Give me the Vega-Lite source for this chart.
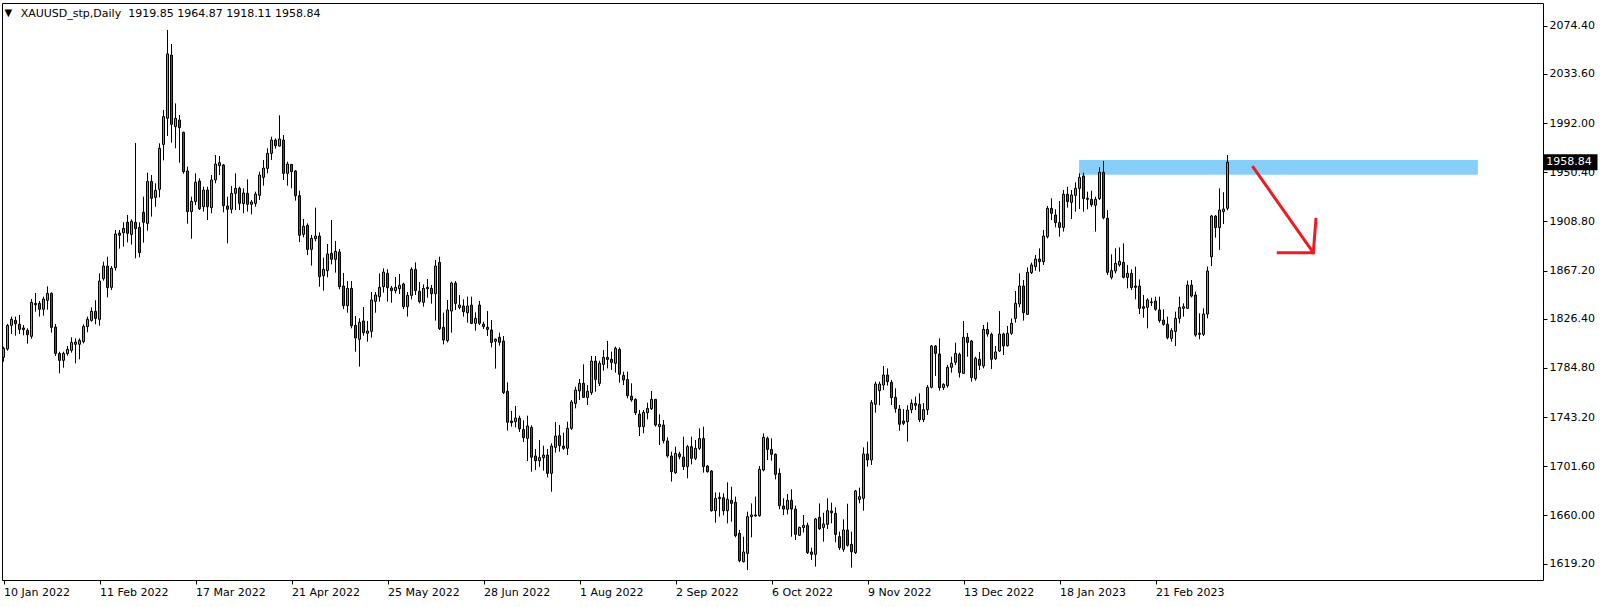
{
"$schema": "https://vega.github.io/schema/vega-lite/v6.json",
"width": 1541, "height": 577,
"autosize": {"type": "none"},
"padding": {"left": 2, "top": 3, "right": 61, "bottom": 27},
"background": "white",
"config": {"view": {"stroke": "black", "strokeWidth": 1}, "font": "DejaVu Sans",
 "scale": {"continuousPadding": 0},
 "axisX": {"title": null, "domain": false, "grid": false, "ticks": true, "tickSize": 4, "tickColor": "black", "tickWidth": 1, "labelAlign": "left", "labelBaseline": "top", "labelPadding": 2, "labelOffset": 0, "labelFont": "DejaVu Sans", "labelFontSize": 11, "labelColor": "black", "labelOverlap": false, "labelFlush": false, "labelBound": false},
 "axisY": {"title": null, "domain": false, "grid": false, "ticks": true, "tickSize": 4, "tickColor": "black", "tickWidth": 1, "labelPadding": 2, "labelFont": "DejaVu Sans", "labelFontSize": 11, "labelColor": "black", "labelBaseline": "middle", "labelOverlap": false, "labelBound": false, "labelFlush": false}
},
"datasets": {
"heading": [{"i": 4.3, "price": 2081.7, "label": "XAUUSD_stp,Daily\u00a0\u00a01919.85 1964.87 1918.11 1958.84"}],
"marker": [{"i": 1.18, "price": 2082.5, "label": "▼"}],
"zone": [{"x1": 268.9, "x2": 368.6, "top": 1960.7, "bottom": 1948.3}],
"tag": [{"x1": 385.0, "x2": 398.5, "top": 1965.6, "bottom": 1952.0, "tx": 385.7, "price": 1958.84, "label": "1958.84"}],
"arrow": [
{"seg": "a", "k": 0, "i": 312.45, "price": 1954.5},
{"seg": "a", "k": 1, "i": 327.45, "price": 1882.3},
{"seg": "b", "k": 0, "i": 318.7, "price": 1882.3},
{"seg": "b", "k": 1, "i": 327.45, "price": 1882.3},
{"seg": "b", "k": 2, "i": 328.1, "price": 1910.5}
],
"candles": [
{"i":0,"open":1793.7,"high":1802.8,"low":1790.1,"close":1801.4},
{"i":1,"open":1800.8,"high":1822.0,"low":1799.4,"close":1820.8},
{"i":2,"open":1820.8,"high":1828.2,"low":1813.5,"close":1825.9},
{"i":3,"open":1825.0,"high":1828.2,"low":1812.1,"close":1822.2},
{"i":4,"open":1821.7,"high":1829.6,"low":1813.5,"close":1817.4},
{"i":5,"open":1818.6,"high":1821.1,"low":1812.4,"close":1817.2},
{"i":6,"open":1816.6,"high":1818.3,"low":1805.3,"close":1812.9},
{"i":7,"open":1811.5,"high":1843.1,"low":1809.5,"close":1840.3},
{"i":8,"open":1839.4,"high":1848.2,"low":1832.4,"close":1838.3},
{"i":9,"open":1839.4,"high":1841.4,"low":1828.2,"close":1834.4},
{"i":10,"open":1834.4,"high":1845.1,"low":1829.0,"close":1843.1},
{"i":11,"open":1842.0,"high":1853.8,"low":1834.1,"close":1847.9},
{"i":12,"open":1847.9,"high":1848.7,"low":1814.6,"close":1819.1},
{"i":13,"open":1819.4,"high":1822.0,"low":1794.9,"close":1797.1},
{"i":14,"open":1797.1,"high":1798.5,"low":1780.2,"close":1791.2},
{"i":15,"open":1791.2,"high":1798.5,"low":1785.0,"close":1797.1},
{"i":16,"open":1796.9,"high":1803.3,"low":1795.2,"close":1800.5},
{"i":17,"open":1799.7,"high":1810.7,"low":1797.7,"close":1806.4},
{"i":18,"open":1804.8,"high":1809.8,"low":1788.7,"close":1806.7},
{"i":19,"open":1804.8,"high":1809.8,"low":1792.1,"close":1808.1},
{"i":20,"open":1807.0,"high":1821.7,"low":1805.6,"close":1820.0},
{"i":21,"open":1819.7,"high":1828.2,"low":1814.9,"close":1825.9},
{"i":22,"open":1825.0,"high":1836.0,"low":1823.9,"close":1832.7},
{"i":23,"open":1832.7,"high":1842.0,"low":1821.7,"close":1826.7},
{"i":24,"open":1825.9,"high":1864.8,"low":1820.5,"close":1858.3},
{"i":25,"open":1860.3,"high":1874.7,"low":1858.6,"close":1871.0},
{"i":26,"open":1871.0,"high":1878.9,"low":1844.5,"close":1852.7},
{"i":27,"open":1853.0,"high":1871.0,"low":1850.7,"close":1869.1},
{"i":28,"open":1869.6,"high":1901.5,"low":1867.1,"close":1898.1},
{"i":29,"open":1898.9,"high":1901.5,"low":1885.7,"close":1897.0},
{"i":30,"open":1899.2,"high":1908.0,"low":1887.4,"close":1902.9},
{"i":31,"open":1908.0,"high":1914.2,"low":1891.0,"close":1898.7},
{"i":32,"open":1897.8,"high":1910.5,"low":1889.1,"close":1908.8},
{"i":33,"open":1908.0,"high":1975.1,"low":1877.5,"close":1902.6},
{"i":34,"open":1903.7,"high":1908.0,"low":1878.3,"close":1882.3},
{"i":35,"open":1916.4,"high":1929.7,"low":1890.8,"close":1908.0},
{"i":36,"open":1907.1,"high":1950.0,"low":1900.9,"close":1942.6},
{"i":37,"open":1942.6,"high":1948.0,"low":1912.8,"close":1928.3},
{"i":38,"open":1929.1,"high":1941.0,"low":1921.2,"close":1935.0},
{"i":39,"open":1935.9,"high":1974.8,"low":1929.1,"close":1970.6},
{"i":40,"open":1973.9,"high":2003.0,"low":1960.4,"close":1997.4},
{"i":41,"open":1996.0,"high":2070.7,"low":1981.0,"close":2050.4},
{"i":42,"open":2049.5,"high":2058.8,"low":1975.4,"close":1990.9},
{"i":43,"open":1988.9,"high":2008.6,"low":1970.6,"close":1996.0},
{"i":44,"open":1994.5,"high":1998.8,"low":1958.4,"close":1988.1},
{"i":45,"open":1984.1,"high":1984.7,"low":1949.1,"close":1950.8},
{"i":46,"open":1951.4,"high":1955.1,"low":1906.8,"close":1917.0},
{"i":47,"open":1917.0,"high":1929.7,"low":1894.1,"close":1925.7},
{"i":48,"open":1925.5,"high":1949.4,"low":1922.6,"close":1941.8},
{"i":49,"open":1942.9,"high":1945.2,"low":1918.4,"close":1919.5},
{"i":50,"open":1921.2,"high":1938.1,"low":1917.0,"close":1935.3},
{"i":51,"open":1935.3,"high":1938.1,"low":1909.9,"close":1921.2},
{"i":52,"open":1920.4,"high":1948.0,"low":1915.6,"close":1943.8},
{"i":53,"open":1943.8,"high":1964.9,"low":1941.0,"close":1957.3},
{"i":54,"open":1955.9,"high":1964.1,"low":1948.0,"close":1958.4},
{"i":55,"open":1956.5,"high":1957.3,"low":1916.4,"close":1922.1},
{"i":56,"open":1921.8,"high":1929.7,"low":1890.2,"close":1919.0},
{"i":57,"open":1919.0,"high":1938.7,"low":1915.6,"close":1932.5},
{"i":58,"open":1932.5,"high":1949.4,"low":1918.4,"close":1936.7},
{"i":59,"open":1936.7,"high":1938.1,"low":1918.4,"close":1924.0},
{"i":60,"open":1923.8,"high":1936.7,"low":1915.6,"close":1932.8},
{"i":61,"open":1932.5,"high":1944.3,"low":1917.0,"close":1923.2},
{"i":62,"open":1923.2,"high":1926.9,"low":1914.7,"close":1925.2},
{"i":63,"open":1924.0,"high":1933.9,"low":1921.2,"close":1931.9},
{"i":64,"open":1930.8,"high":1950.8,"low":1926.9,"close":1948.0},
{"i":65,"open":1946.0,"high":1960.7,"low":1939.0,"close":1953.9},
{"i":66,"open":1953.6,"high":1970.6,"low":1949.4,"close":1966.3},
{"i":67,"open":1966.3,"high":1980.4,"low":1960.7,"close":1977.6},
{"i":68,"open":1977.6,"high":1979.0,"low":1970.3,"close":1972.8},
{"i":69,"open":1972.5,"high":1998.5,"low":1972.0,"close":1978.5},
{"i":70,"open":1977.6,"high":1981.8,"low":1943.8,"close":1949.4},
{"i":71,"open":1949.4,"high":1959.3,"low":1939.0,"close":1957.3},
{"i":72,"open":1957.0,"high":1957.3,"low":1936.7,"close":1950.8},
{"i":73,"open":1951.4,"high":1952.2,"low":1926.3,"close":1930.5},
{"i":74,"open":1930.5,"high":1934.8,"low":1891.3,"close":1897.0},
{"i":75,"open":1897.8,"high":1910.8,"low":1895.3,"close":1904.6},
{"i":76,"open":1905.4,"high":1907.1,"low":1880.3,"close":1885.1},
{"i":77,"open":1885.1,"high":1897.3,"low":1871.3,"close":1894.4},
{"i":78,"open":1894.1,"high":1920.4,"low":1891.9,"close":1896.4},
{"i":79,"open":1896.4,"high":1899.5,"low":1853.5,"close":1862.0},
{"i":80,"open":1862.8,"high":1878.1,"low":1850.2,"close":1868.2},
{"i":81,"open":1867.1,"high":1889.6,"low":1861.4,"close":1881.2},
{"i":82,"open":1881.7,"high":1910.0,"low":1872.4,"close":1876.7},
{"i":83,"open":1876.7,"high":1892.2,"low":1865.4,"close":1883.4},
{"i":84,"open":1882.9,"high":1885.4,"low":1851.3,"close":1853.5},
{"i":85,"open":1854.1,"high":1865.1,"low":1834.6,"close":1837.5},
{"i":86,"open":1837.5,"high":1858.3,"low":1831.5,"close":1852.1},
{"i":87,"open":1852.1,"high":1858.3,"low":1818.3,"close":1820.6},
{"i":88,"open":1820.8,"high":1828.7,"low":1798.5,"close":1810.1},
{"i":89,"open":1809.0,"high":1826.8,"low":1785.9,"close":1823.4},
{"i":90,"open":1824.5,"high":1836.3,"low":1812.1,"close":1814.6},
{"i":91,"open":1814.1,"high":1824.5,"low":1807.0,"close":1816.0},
{"i":92,"open":1815.8,"high":1849.0,"low":1810.4,"close":1842.3},
{"i":93,"open":1841.1,"high":1849.0,"low":1831.5,"close":1846.5},
{"i":94,"open":1845.1,"high":1864.8,"low":1840.9,"close":1853.0},
{"i":95,"open":1853.5,"high":1869.0,"low":1848.5,"close":1865.9},
{"i":96,"open":1864.8,"high":1868.2,"low":1840.9,"close":1852.7},
{"i":97,"open":1852.4,"high":1854.1,"low":1840.0,"close":1850.2},
{"i":98,"open":1850.2,"high":1861.7,"low":1847.9,"close":1853.0},
{"i":99,"open":1851.8,"high":1864.3,"low":1847.3,"close":1854.7},
{"i":100,"open":1855.8,"high":1856.9,"low":1834.6,"close":1836.6},
{"i":101,"open":1836.6,"high":1849.0,"low":1828.2,"close":1846.2},
{"i":102,"open":1846.2,"high":1869.9,"low":1842.8,"close":1868.2},
{"i":103,"open":1868.2,"high":1874.1,"low":1846.5,"close":1850.2},
{"i":104,"open":1849.6,"high":1857.5,"low":1839.4,"close":1840.9},
{"i":105,"open":1840.3,"high":1855.5,"low":1836.6,"close":1852.1},
{"i":106,"open":1853.0,"high":1860.0,"low":1844.2,"close":1851.8},
{"i":107,"open":1852.1,"high":1854.9,"low":1839.2,"close":1847.6},
{"i":108,"open":1847.6,"high":1876.1,"low":1824.8,"close":1871.0},
{"i":109,"open":1874.1,"high":1878.9,"low":1816.9,"close":1818.0},
{"i":110,"open":1819.1,"high":1831.5,"low":1804.7,"close":1808.4},
{"i":111,"open":1807.9,"high":1842.3,"low":1806.4,"close":1833.8},
{"i":112,"open":1832.9,"high":1857.8,"low":1814.6,"close":1856.6},
{"i":113,"open":1856.6,"high":1858.3,"low":1833.8,"close":1839.4},
{"i":114,"open":1836.0,"high":1846.5,"low":1834.4,"close":1838.0},
{"i":115,"open":1837.2,"high":1842.8,"low":1828.2,"close":1832.4},
{"i":116,"open":1831.5,"high":1845.1,"low":1823.1,"close":1837.2},
{"i":117,"open":1838.0,"high":1845.1,"low":1821.9,"close":1822.5},
{"i":118,"open":1822.5,"high":1831.8,"low":1816.3,"close":1826.7},
{"i":119,"open":1838.0,"high":1841.4,"low":1821.1,"close":1822.5},
{"i":120,"open":1821.9,"high":1823.9,"low":1817.7,"close":1819.7},
{"i":121,"open":1819.1,"high":1832.9,"low":1811.8,"close":1817.4},
{"i":122,"open":1816.9,"high":1825.3,"low":1802.2,"close":1806.4},
{"i":123,"open":1807.3,"high":1809.8,"low":1784.2,"close":1809.0},
{"i":124,"open":1810.7,"high":1814.6,"low":1803.6,"close":1806.4},
{"i":125,"open":1807.6,"high":1811.8,"low":1762.7,"close":1763.9},
{"i":126,"open":1765.0,"high":1772.6,"low":1731.7,"close":1738.8},
{"i":127,"open":1739.9,"high":1748.4,"low":1735.1,"close":1738.5},
{"i":128,"open":1739.3,"high":1752.6,"low":1734.5,"close":1742.4},
{"i":129,"open":1742.2,"high":1744.4,"low":1730.6,"close":1733.4},
{"i":130,"open":1732.8,"high":1740.5,"low":1722.1,"close":1725.8},
{"i":131,"open":1725.2,"high":1744.4,"low":1706.0,"close":1735.7},
{"i":132,"open":1734.5,"high":1736.2,"low":1697.0,"close":1709.2},
{"i":133,"open":1710.3,"high":1716.2,"low":1698.4,"close":1706.3},
{"i":134,"open":1706.3,"high":1723.8,"low":1701.2,"close":1708.9},
{"i":135,"open":1708.9,"high":1719.0,"low":1697.9,"close":1711.1},
{"i":136,"open":1711.1,"high":1716.2,"low":1692.2,"close":1695.6},
{"i":137,"open":1695.6,"high":1721.0,"low":1680.1,"close":1718.7},
{"i":138,"open":1717.6,"high":1739.0,"low":1713.1,"close":1727.2},
{"i":139,"open":1727.5,"high":1736.5,"low":1713.9,"close":1719.0},
{"i":140,"open":1718.7,"high":1730.0,"low":1715.4,"close":1716.8},
{"i":141,"open":1716.8,"high":1739.3,"low":1711.1,"close":1733.7},
{"i":142,"open":1733.7,"high":1757.6,"low":1732.3,"close":1756.0},
{"i":143,"open":1754.8,"high":1768.9,"low":1750.6,"close":1766.1},
{"i":144,"open":1765.3,"high":1775.4,"low":1757.6,"close":1771.8},
{"i":145,"open":1771.8,"high":1787.8,"low":1759.3,"close":1759.9},
{"i":146,"open":1759.9,"high":1770.3,"low":1753.4,"close":1765.0},
{"i":147,"open":1763.9,"high":1794.9,"low":1761.9,"close":1790.6},
{"i":148,"open":1790.6,"high":1794.9,"low":1764.7,"close":1775.1},
{"i":149,"open":1771.8,"high":1790.9,"low":1769.5,"close":1788.7},
{"i":150,"open":1787.8,"high":1799.9,"low":1782.5,"close":1793.7},
{"i":151,"open":1793.7,"high":1807.6,"low":1784.4,"close":1792.0},
{"i":152,"open":1792.1,"high":1798.6,"low":1783.0,"close":1789.5},
{"i":153,"open":1788.7,"high":1802.8,"low":1780.8,"close":1801.4},
{"i":154,"open":1800.5,"high":1802.2,"low":1772.3,"close":1779.4},
{"i":155,"open":1778.5,"high":1781.6,"low":1770.3,"close":1774.6},
{"i":156,"open":1775.1,"high":1781.6,"low":1759.1,"close":1761.3},
{"i":157,"open":1761.0,"high":1771.8,"low":1756.2,"close":1757.7},
{"i":158,"open":1758.2,"high":1759.1,"low":1745.0,"close":1746.9},
{"i":159,"open":1745.8,"high":1749.2,"low":1727.2,"close":1735.1},
{"i":160,"open":1735.1,"high":1749.2,"low":1729.5,"close":1747.2},
{"i":161,"open":1746.9,"high":1755.4,"low":1741.3,"close":1750.6},
{"i":162,"open":1750.3,"high":1765.3,"low":1749.2,"close":1758.2},
{"i":163,"open":1758.2,"high":1758.2,"low":1735.1,"close":1736.5},
{"i":164,"open":1735.1,"high":1745.5,"low":1719.6,"close":1737.1},
{"i":165,"open":1736.5,"high":1740.7,"low":1721.0,"close":1723.3},
{"i":166,"open":1723.0,"high":1726.1,"low":1708.9,"close":1710.3},
{"i":167,"open":1710.3,"high":1713.9,"low":1688.6,"close":1697.0},
{"i":168,"open":1696.2,"high":1718.2,"low":1695.1,"close":1712.5},
{"i":169,"open":1712.0,"high":1713.9,"low":1707.5,"close":1709.7},
{"i":170,"open":1709.4,"high":1726.6,"low":1698.4,"close":1701.3},
{"i":171,"open":1701.3,"high":1719.6,"low":1691.4,"close":1718.2},
{"i":172,"open":1718.2,"high":1726.6,"low":1703.2,"close":1708.3},
{"i":173,"open":1708.3,"high":1723.8,"low":1706.9,"close":1716.8},
{"i":174,"open":1716.8,"high":1733.7,"low":1715.4,"close":1725.0},
{"i":175,"open":1725.0,"high":1735.1,"low":1696.2,"close":1701.3},
{"i":176,"open":1701.8,"high":1702.7,"low":1696.2,"close":1697.0},
{"i":177,"open":1697.6,"high":1698.4,"low":1663.2,"close":1664.0},
{"i":178,"open":1664.0,"high":1679.5,"low":1653.9,"close":1674.5},
{"i":179,"open":1674.2,"high":1679.5,"low":1659.0,"close":1675.3},
{"i":180,"open":1675.0,"high":1678.7,"low":1660.1,"close":1664.0},
{"i":181,"open":1664.0,"high":1688.0,"low":1653.3,"close":1673.6},
{"i":182,"open":1672.8,"high":1684.3,"low":1654.7,"close":1670.2},
{"i":183,"open":1671.1,"high":1675.9,"low":1641.5,"close":1642.9},
{"i":184,"open":1644.9,"high":1647.7,"low":1620.3,"close":1621.7},
{"i":185,"open":1620.9,"high":1642.0,"low":1620.3,"close":1629.1},
{"i":186,"open":1627.9,"high":1663.2,"low":1613.8,"close":1659.0},
{"i":187,"open":1659.0,"high":1670.2,"low":1641.5,"close":1660.4},
{"i":188,"open":1659.5,"high":1675.9,"low":1659.0,"close":1660.4},
{"i":189,"open":1659.8,"high":1701.8,"low":1659.0,"close":1699.0},
{"i":190,"open":1698.4,"high":1729.5,"low":1697.3,"close":1726.1},
{"i":191,"open":1725.2,"high":1726.6,"low":1706.9,"close":1715.9},
{"i":192,"open":1715.9,"high":1725.2,"low":1706.3,"close":1711.7},
{"i":193,"open":1711.7,"high":1712.5,"low":1690.5,"close":1694.8},
{"i":194,"open":1695.6,"high":1699.8,"low":1665.2,"close":1668.3},
{"i":195,"open":1668.0,"high":1674.5,"low":1660.4,"close":1665.4},
{"i":196,"open":1665.2,"high":1678.1,"low":1660.9,"close":1672.8},
{"i":197,"open":1672.8,"high":1682.1,"low":1642.0,"close":1665.4},
{"i":198,"open":1665.4,"high":1668.3,"low":1639.2,"close":1644.0},
{"i":199,"open":1643.2,"high":1650.5,"low":1642.6,"close":1649.9},
{"i":200,"open":1649.7,"high":1660.4,"low":1645.5,"close":1651.6},
{"i":201,"open":1651.6,"high":1653.9,"low":1627.4,"close":1628.5},
{"i":202,"open":1629.1,"high":1632.7,"low":1622.3,"close":1627.1},
{"i":203,"open":1627.1,"high":1657.8,"low":1616.7,"close":1657.0},
{"i":204,"open":1658.4,"high":1670.2,"low":1647.7,"close":1648.8},
{"i":205,"open":1649.9,"high":1662.3,"low":1637.8,"close":1652.8},
{"i":206,"open":1652.5,"high":1674.5,"low":1648.5,"close":1664.0},
{"i":207,"open":1663.7,"high":1670.8,"low":1653.3,"close":1662.3},
{"i":208,"open":1661.8,"high":1666.8,"low":1637.3,"close":1644.0},
{"i":209,"open":1642.0,"high":1646.3,"low":1630.8,"close":1632.7},
{"i":210,"open":1631.3,"high":1656.7,"low":1629.3,"close":1647.7},
{"i":211,"open":1647.7,"high":1669.9,"low":1633.6,"close":1634.7},
{"i":212,"open":1635.6,"high":1646.3,"low":1615.8,"close":1629.3},
{"i":213,"open":1628.5,"high":1681.5,"low":1627.4,"close":1680.7},
{"i":214,"open":1673.6,"high":1683.5,"low":1670.2,"close":1675.9},
{"i":215,"open":1674.5,"high":1717.6,"low":1664.0,"close":1712.0},
{"i":216,"open":1712.0,"high":1722.4,"low":1701.3,"close":1706.9},
{"i":217,"open":1706.9,"high":1757.7,"low":1702.7,"close":1755.4},
{"i":218,"open":1754.0,"high":1773.2,"low":1746.9,"close":1771.2},
{"i":219,"open":1765.6,"high":1773.2,"low":1753.2,"close":1771.2},
{"i":220,"open":1770.3,"high":1786.4,"low":1766.1,"close":1778.8},
{"i":221,"open":1778.8,"high":1784.4,"low":1769.8,"close":1773.2},
{"i":222,"open":1772.6,"high":1774.6,"low":1753.4,"close":1759.6},
{"i":223,"open":1759.9,"high":1767.5,"low":1746.9,"close":1750.3},
{"i":224,"open":1750.0,"high":1753.4,"low":1731.7,"close":1737.1},
{"i":225,"open":1739.9,"high":1750.0,"low":1736.5,"close":1737.9},
{"i":226,"open":1739.3,"high":1753.2,"low":1722.4,"close":1749.2},
{"i":227,"open":1749.5,"high":1758.2,"low":1746.5,"close":1754.8},
{"i":228,"open":1754.8,"high":1760.5,"low":1749.2,"close":1753.2},
{"i":229,"open":1754.0,"high":1763.3,"low":1739.0,"close":1741.0},
{"i":230,"open":1741.0,"high":1755.0,"low":1739.0,"close":1749.5},
{"i":231,"open":1749.5,"high":1770.3,"low":1745.0,"close":1768.4},
{"i":232,"open":1768.4,"high":1804.2,"low":1767.5,"close":1803.3},
{"i":233,"open":1803.3,"high":1804.2,"low":1778.0,"close":1797.1},
{"i":234,"open":1796.6,"high":1809.8,"low":1765.6,"close":1768.1},
{"i":235,"open":1768.1,"high":1771.8,"low":1766.1,"close":1770.9},
{"i":236,"open":1769.8,"high":1787.3,"low":1768.1,"close":1785.3},
{"i":237,"open":1785.3,"high":1794.3,"low":1780.8,"close":1788.7},
{"i":238,"open":1789.5,"high":1806.2,"low":1787.3,"close":1797.1},
{"i":239,"open":1796.3,"high":1797.7,"low":1776.6,"close":1780.8},
{"i":240,"open":1780.2,"high":1824.5,"low":1779.7,"close":1810.7},
{"i":241,"open":1810.7,"high":1814.3,"low":1794.3,"close":1806.4},
{"i":242,"open":1807.6,"high":1808.4,"low":1773.2,"close":1776.6},
{"i":243,"open":1775.7,"high":1794.3,"low":1774.0,"close":1792.9},
{"i":244,"open":1792.1,"high":1798.3,"low":1783.0,"close":1787.0},
{"i":245,"open":1786.4,"high":1821.1,"low":1784.4,"close":1817.4},
{"i":246,"open":1817.4,"high":1823.4,"low":1811.2,"close":1813.5},
{"i":247,"open":1813.2,"high":1814.6,"low":1783.9,"close":1792.1},
{"i":248,"open":1792.6,"high":1803.3,"low":1791.5,"close":1798.3},
{"i":249,"open":1799.1,"high":1832.9,"low":1798.3,"close":1813.5},
{"i":250,"open":1813.5,"high":1814.6,"low":1795.7,"close":1803.3},
{"i":251,"open":1803.6,"high":1820.3,"low":1802.8,"close":1814.1},
{"i":252,"open":1814.1,"high":1826.7,"low":1812.7,"close":1822.5},
{"i":253,"open":1826.7,"high":1849.9,"low":1823.1,"close":1839.4},
{"i":254,"open":1838.9,"high":1864.8,"low":1836.1,"close":1854.1},
{"i":255,"open":1854.1,"high":1859.2,"low":1824.8,"close":1831.5},
{"i":256,"open":1830.1,"high":1869.9,"low":1829.6,"close":1865.7},
{"i":257,"open":1865.4,"high":1873.9,"low":1864.3,"close":1871.9},
{"i":258,"open":1870.5,"high":1880.3,"low":1867.1,"close":1876.9},
{"i":259,"open":1876.9,"high":1886.0,"low":1866.2,"close":1874.7},
{"i":260,"open":1874.7,"high":1901.5,"low":1871.9,"close":1896.4},
{"i":261,"open":1895.8,"high":1921.8,"low":1894.4,"close":1919.8},
{"i":262,"open":1919.8,"high":1928.3,"low":1909.9,"close":1915.6},
{"i":263,"open":1914.2,"high":1919.0,"low":1903.7,"close":1907.7},
{"i":264,"open":1907.7,"high":1926.0,"low":1895.8,"close":1903.7},
{"i":265,"open":1903.7,"high":1935.3,"low":1900.1,"close":1931.7},
{"i":266,"open":1931.7,"high":1938.1,"low":1920.4,"close":1925.5},
{"i":267,"open":1924.9,"high":1935.3,"low":1910.8,"close":1931.1},
{"i":268,"open":1930.8,"high":1941.8,"low":1917.0,"close":1936.7},
{"i":269,"open":1936.7,"high":1949.4,"low":1919.2,"close":1946.0},
{"i":270,"open":1947.2,"high":1950.0,"low":1917.0,"close":1928.0},
{"i":271,"open":1928.3,"high":1933.9,"low":1919.0,"close":1927.4},
{"i":272,"open":1927.4,"high":1934.8,"low":1921.2,"close":1922.9},
{"i":273,"open":1922.4,"high":1929.7,"low":1900.1,"close":1927.4},
{"i":274,"open":1928.0,"high":1954.5,"low":1926.9,"close":1950.3},
{"i":275,"open":1950.3,"high":1959.9,"low":1910.5,"close":1911.9},
{"i":276,"open":1911.4,"high":1918.4,"low":1863.4,"close":1865.6},
{"i":277,"open":1861.4,"high":1880.9,"low":1859.7,"close":1867.1},
{"i":278,"open":1866.8,"high":1886.0,"low":1864.8,"close":1873.3},
{"i":279,"open":1871.9,"high":1886.8,"low":1870.5,"close":1875.0},
{"i":280,"open":1874.1,"high":1890.2,"low":1860.6,"close":1861.4},
{"i":281,"open":1861.4,"high":1871.9,"low":1852.1,"close":1864.8},
{"i":282,"open":1864.8,"high":1868.2,"low":1850.7,"close":1852.7},
{"i":283,"open":1854.1,"high":1870.5,"low":1842.8,"close":1853.0},
{"i":284,"open":1854.1,"high":1859.7,"low":1830.4,"close":1835.2},
{"i":285,"open":1836.6,"high":1846.5,"low":1827.3,"close":1835.2},
{"i":286,"open":1836.0,"high":1843.7,"low":1818.3,"close":1842.3},
{"i":287,"open":1840.6,"high":1844.2,"low":1837.1,"close":1840.0},
{"i":288,"open":1841.4,"high":1845.1,"low":1833.2,"close":1834.4},
{"i":289,"open":1833.8,"high":1845.1,"low":1823.1,"close":1824.8},
{"i":290,"open":1825.3,"high":1834.4,"low":1820.5,"close":1821.7},
{"i":291,"open":1821.7,"high":1828.2,"low":1809.0,"close":1810.4},
{"i":292,"open":1809.8,"high":1818.3,"low":1807.0,"close":1816.3},
{"i":293,"open":1815.7,"high":1832.4,"low":1803.3,"close":1826.7},
{"i":294,"open":1826.7,"high":1845.1,"low":1822.5,"close":1836.0},
{"i":295,"open":1835.2,"high":1839.4,"low":1828.2,"close":1836.6},
{"i":296,"open":1835.2,"high":1858.6,"low":1834.6,"close":1854.9},
{"i":297,"open":1854.9,"high":1859.2,"low":1844.5,"close":1845.6},
{"i":298,"open":1846.5,"high":1849.3,"low":1811.2,"close":1812.6},
{"i":299,"open":1814.1,"high":1831.0,"low":1809.0,"close":1813.2},
{"i":300,"open":1813.2,"high":1835.2,"low":1811.8,"close":1830.4},
{"i":301,"open":1830.4,"high":1870.5,"low":1826.7,"close":1866.8},
{"i":302,"open":1878.9,"high":1914.2,"low":1871.0,"close":1913.3},
{"i":303,"open":1913.3,"high":1914.2,"low":1895.0,"close":1903.5},
{"i":304,"open":1903.5,"high":1936.7,"low":1884.6,"close":1918.4},
{"i":305,"open":1917.0,"high":1933.4,"low":1906.6,"close":1919.2},
{"i":306,"open":1919.85,"high":1964.87,"low":1918.11,"close":1958.84}
]
},
"layer": [
{"data": {"name": "zone"}, "mark": {"type": "rect", "color": "#87cefa", "opacity": 1},
 "encoding": {
  "x": {"field": "x1", "type": "quantitative", "title": null, "scale": {"domain": [-0.375, 384.875], "nice": false, "zero": false, "padding": 0}, "axis": {"orient": "bottom", "values": [0,24,48,72,96,120,144,168,192,216,240,264,288], "labelExpr": "['10 Jan 2022','11 Feb 2022','17 Mar 2022','21 Apr 2022','25 May 2022','28 Jun 2022','1 Aug 2022','2 Sep 2022','6 Oct 2022','9 Nov 2022','13 Dec 2022','18 Jan 2023','21 Feb 2023'][round(datum.value/24)]"}},
  "x2": {"field": "x2"},
  "y": {"field": "top", "type": "quantitative", "title": null, "scale": {"domain": [1605.38, 2093.52], "nice": false, "zero": false, "padding": 0}, "axis": {"orient": "right", "values": [1619.2,1660,1701.6,1743.2,1784.8,1826.4,1867.2,1908.8,1950.4,1992,2033.6,2074.4], "format": ".2f"}},
  "y2": {"field": "bottom"}
 }},
{"data": {"name": "candles"}, "mark": {"type": "rule", "color": "black", "strokeWidth": 1},
 "encoding": {
  "x": {"field": "i", "type": "quantitative", "title": null, "scale": {"domain": [-0.375, 384.875], "nice": false, "zero": false, "padding": 0}, "axis": {"orient": "bottom", "values": [0,24,48,72,96,120,144,168,192,216,240,264,288], "labelExpr": "['10 Jan 2022','11 Feb 2022','17 Mar 2022','21 Apr 2022','25 May 2022','28 Jun 2022','1 Aug 2022','2 Sep 2022','6 Oct 2022','9 Nov 2022','13 Dec 2022','18 Jan 2023','21 Feb 2023'][round(datum.value/24)]"}},
  "y": {"field": "low", "type": "quantitative", "title": null, "scale": {"domain": [1605.38, 2093.52], "nice": false, "zero": false, "padding": 0}, "axis": {"orient": "right", "values": [1619.2,1660,1701.6,1743.2,1784.8,1826.4,1867.2,1908.8,1950.4,1992,2033.6,2074.4], "format": ".2f"}},
  "y2": {"field": "high"}
 }},
{"data": {"name": "candles"}, "mark": {"type": "bar", "size": 2, "stroke": "black", "strokeWidth": 1},
 "encoding": {
  "x": {"field": "i", "type": "quantitative", "title": null, "scale": {"domain": [-0.375, 384.875], "nice": false, "zero": false, "padding": 0}, "axis": {"orient": "bottom", "values": [0,24,48,72,96,120,144,168,192,216,240,264,288], "labelExpr": "['10 Jan 2022','11 Feb 2022','17 Mar 2022','21 Apr 2022','25 May 2022','28 Jun 2022','1 Aug 2022','2 Sep 2022','6 Oct 2022','9 Nov 2022','13 Dec 2022','18 Jan 2023','21 Feb 2023'][round(datum.value/24)]"}},
  "y": {"field": "open", "type": "quantitative", "title": null, "scale": {"domain": [1605.38, 2093.52], "nice": false, "zero": false, "padding": 0}, "axis": {"orient": "right", "values": [1619.2,1660,1701.6,1743.2,1784.8,1826.4,1867.2,1908.8,1950.4,1992,2033.6,2074.4], "format": ".2f"}},
  "y2": {"field": "close"},
  "fill": {"condition": {"test": "datum.close >= datum.open", "value": "#1fe01f"}, "value": "#d81818"}
 }},
{"data": {"name": "arrow"}, "mark": {"type": "line", "color": "#ed1c24", "strokeWidth": 3, "strokeCap": "square"},
 "encoding": {
  "x": {"field": "i", "type": "quantitative", "title": null, "scale": {"domain": [-0.375, 384.875], "nice": false, "zero": false, "padding": 0}, "axis": {"orient": "bottom", "values": [0,24,48,72,96,120,144,168,192,216,240,264,288], "labelExpr": "['10 Jan 2022','11 Feb 2022','17 Mar 2022','21 Apr 2022','25 May 2022','28 Jun 2022','1 Aug 2022','2 Sep 2022','6 Oct 2022','9 Nov 2022','13 Dec 2022','18 Jan 2023','21 Feb 2023'][round(datum.value/24)]"}},
  "y": {"field": "price", "type": "quantitative", "title": null, "scale": {"domain": [1605.38, 2093.52], "nice": false, "zero": false, "padding": 0}, "axis": {"orient": "right", "values": [1619.2,1660,1701.6,1743.2,1784.8,1826.4,1867.2,1908.8,1950.4,1992,2033.6,2074.4], "format": ".2f"}},
  "detail": {"field": "seg"},
  "order": {"field": "k"}
 }},
{"data": {"name": "tag"}, "mark": {"type": "rect", "color": "black"},
 "encoding": {
  "x": {"field": "x1", "type": "quantitative", "title": null, "scale": {"domain": [-0.375, 384.875], "nice": false, "zero": false, "padding": 0}, "axis": {"orient": "bottom", "values": [0,24,48,72,96,120,144,168,192,216,240,264,288], "labelExpr": "['10 Jan 2022','11 Feb 2022','17 Mar 2022','21 Apr 2022','25 May 2022','28 Jun 2022','1 Aug 2022','2 Sep 2022','6 Oct 2022','9 Nov 2022','13 Dec 2022','18 Jan 2023','21 Feb 2023'][round(datum.value/24)]"}},
  "x2": {"field": "x2"},
  "y": {"field": "top", "type": "quantitative", "title": null, "scale": {"domain": [1605.38, 2093.52], "nice": false, "zero": false, "padding": 0}, "axis": {"orient": "right", "values": [1619.2,1660,1701.6,1743.2,1784.8,1826.4,1867.2,1908.8,1950.4,1992,2033.6,2074.4], "format": ".2f"}},
  "y2": {"field": "bottom"}
 }},
{"data": {"name": "tag"}, "mark": {"type": "text", "color": "white", "align": "left", "baseline": "middle", "font": "DejaVu Sans", "fontSize": 11},
 "encoding": {
  "x": {"field": "tx", "type": "quantitative", "title": null, "scale": {"domain": [-0.375, 384.875], "nice": false, "zero": false, "padding": 0}, "axis": {"orient": "bottom", "values": [0,24,48,72,96,120,144,168,192,216,240,264,288], "labelExpr": "['10 Jan 2022','11 Feb 2022','17 Mar 2022','21 Apr 2022','25 May 2022','28 Jun 2022','1 Aug 2022','2 Sep 2022','6 Oct 2022','9 Nov 2022','13 Dec 2022','18 Jan 2023','21 Feb 2023'][round(datum.value/24)]"}},
  "y": {"field": "price", "type": "quantitative", "title": null, "scale": {"domain": [1605.38, 2093.52], "nice": false, "zero": false, "padding": 0}, "axis": {"orient": "right", "values": [1619.2,1660,1701.6,1743.2,1784.8,1826.4,1867.2,1908.8,1950.4,1992,2033.6,2074.4], "format": ".2f"}},
  "text": {"field": "label"}
 }},
{"data": {"name": "marker"}, "mark": {"type": "text", "color": "black", "align": "center", "baseline": "alphabetic", "font": "DejaVu Sans", "fontSize": 10},
 "encoding": {
  "x": {"field": "i", "type": "quantitative", "title": null, "scale": {"domain": [-0.375, 384.875], "nice": false, "zero": false, "padding": 0}, "axis": {"orient": "bottom", "values": [0,24,48,72,96,120,144,168,192,216,240,264,288], "labelExpr": "['10 Jan 2022','11 Feb 2022','17 Mar 2022','21 Apr 2022','25 May 2022','28 Jun 2022','1 Aug 2022','2 Sep 2022','6 Oct 2022','9 Nov 2022','13 Dec 2022','18 Jan 2023','21 Feb 2023'][round(datum.value/24)]"}},
  "y": {"field": "price", "type": "quantitative", "title": null, "scale": {"domain": [1605.38, 2093.52], "nice": false, "zero": false, "padding": 0}, "axis": {"orient": "right", "values": [1619.2,1660,1701.6,1743.2,1784.8,1826.4,1867.2,1908.8,1950.4,1992,2033.6,2074.4], "format": ".2f"}},
  "text": {"field": "label"}
 }},
{"data": {"name": "heading"}, "mark": {"type": "text", "color": "black", "align": "left", "baseline": "alphabetic", "font": "DejaVu Sans", "fontSize": 11},
 "encoding": {
  "x": {"field": "i", "type": "quantitative", "title": null, "scale": {"domain": [-0.375, 384.875], "nice": false, "zero": false, "padding": 0}, "axis": {"orient": "bottom", "values": [0,24,48,72,96,120,144,168,192,216,240,264,288], "labelExpr": "['10 Jan 2022','11 Feb 2022','17 Mar 2022','21 Apr 2022','25 May 2022','28 Jun 2022','1 Aug 2022','2 Sep 2022','6 Oct 2022','9 Nov 2022','13 Dec 2022','18 Jan 2023','21 Feb 2023'][round(datum.value/24)]"}},
  "y": {"field": "price", "type": "quantitative", "title": null, "scale": {"domain": [1605.38, 2093.52], "nice": false, "zero": false, "padding": 0}, "axis": {"orient": "right", "values": [1619.2,1660,1701.6,1743.2,1784.8,1826.4,1867.2,1908.8,1950.4,1992,2033.6,2074.4], "format": ".2f"}},
  "text": {"field": "label"}
 }}
]
}
